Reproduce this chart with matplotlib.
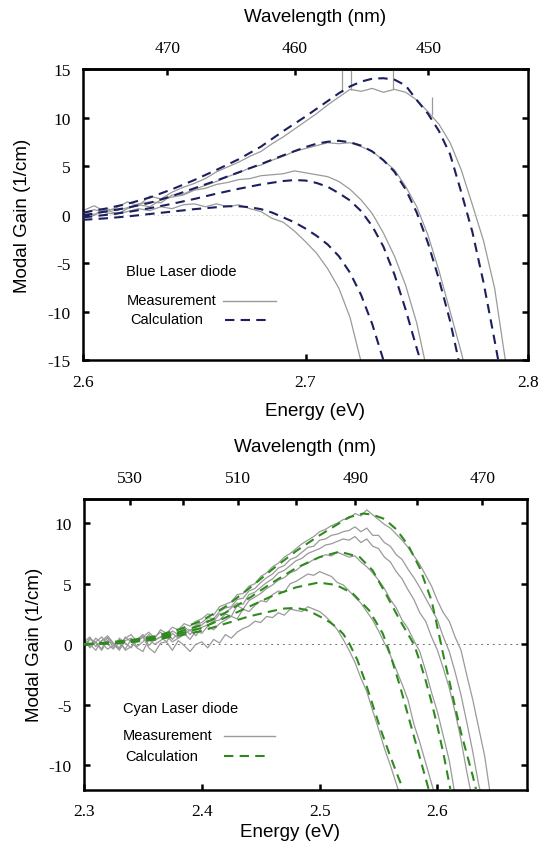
import numpy as np
import matplotlib.pyplot as plt
from matplotlib.lines import Line2D

plt.rcParams['font.family'] = 'Liberation Serif'
plt.rcParams['axes.unicode_minus'] = False

HC = 1239.84  # eV*nm

# ---------------- blue laser diode (top panel) ----------------
# measured spectra, sampled every 5 meV from 2.600 eV
blue_meas_1 = [0.4, 0.9, 0.3, 0.7, 1.3, 0.9, 1.9, 1.6, 2.3, 2.8,
               3.2, 3.7, 4.4, 4.9, 5.4, 6.0, 6.5, 7.3, 8.0, 8.8,
               9.6, 10.4, 11.3, 12.1, 12.9, 12.7, 13.0, 12.6, 12.9, 12.6,
               11.8, 10.6, 9.3, 7.4, 4.6, 1.0, -2.7, -7.6, -15.3]
blue_meas_2 = [0.2, -0.1, 0.6, 0.4, 0.7, 1.1, 1.3, 1.2, 2.0, 2.1,
               2.6, 3.0, 3.4, 3.9, 4.3, 4.8, 5.1, 5.6, 6.0, 6.5,
               6.8, 7.1, 7.4, 7.3, 7.4, 7.0, 6.5, 5.6, 4.6, 2.9,
               0.8, -2.1, -5.8, -10.0, -14.2, -19.0]
blue_meas_3 = [0.1, 0.5, 0.2, 0.0, 0.6, 1.0, 0.8, 1.5, 1.8, 2.0,
               2.5, 2.7, 3.1, 3.3, 3.6, 3.7, 4.0, 4.1, 4.2, 4.5,
               4.3, 4.1, 3.9, 3.4, 2.6, 1.5, 0.1, -1.9, -4.3, -7.3,
               -11.2, -16.5]
blue_meas_4 = [0.3, 0.0, 0.5, 0.1, 0.3, 0.6, 0.4, 0.8, 0.6, 1.0,
               1.1, 0.8, 1.1, 0.8, 1.0, 0.6, 0.3, -0.4, -0.8, -1.7,
               -2.8, -4.0, -5.6, -7.6, -10.6, -15.2]
# narrow spikes on the highest measured trace
blue_spike_e = [2.7165, 2.7205, 2.7395, 2.757]
blue_spike_lo = [12.6, 12.8, 12.9, 10.3]
blue_spike_hi = [15.5, 15.5, 15.3, 12.1]

# calculated gain
blue_calc_1_e = [2.600, 2.610, 2.620, 2.630, 2.640, 2.650, 2.660, 2.670, 2.680, 2.690,
                 2.700, 2.705, 2.710, 2.715, 2.720, 2.725, 2.730, 2.735, 2.740, 2.745,
                 2.750, 2.755, 2.760, 2.765, 2.770, 2.775, 2.780, 2.785, 2.787]
blue_calc_1 = [0.2, 0.6, 1.1, 1.75, 2.6, 3.55, 4.6, 5.7, 7.0, 8.6,
               10.1, 10.9, 11.7, 12.5, 13.2, 13.7, 14.0, 14.05, 13.9, 13.3,
               11.8, 10.4, 8.6, 6.2, 2.3, -1.8, -7.0, -13.0, -15.5]
blue_calc_2_e = [2.600, 2.610, 2.620, 2.630, 2.640, 2.650, 2.660, 2.670, 2.680, 2.690,
                 2.700, 2.705, 2.710, 2.715, 2.720, 2.725, 2.730, 2.735, 2.740, 2.745,
                 2.750, 2.755, 2.760, 2.765, 2.769]
blue_calc_2 = [-0.1, 0.3, 0.7, 1.2, 1.9, 2.7, 3.5, 4.35, 5.2, 6.1,
               6.95, 7.3, 7.5, 7.6, 7.45, 7.1, 6.5, 5.6, 4.4, 2.6,
               0.2, -2.9, -6.7, -11.0, -15.2]
blue_calc_3_e = [2.600, 2.610, 2.620, 2.630, 2.640, 2.650, 2.660, 2.670, 2.680, 2.690,
                 2.695, 2.700, 2.705, 2.710, 2.715, 2.720, 2.725, 2.730, 2.735, 2.740,
                 2.745, 2.750, 2.752]
blue_calc_3 = [-0.3, -0.05, 0.25, 0.65, 1.1, 1.6, 2.15, 2.65, 3.1, 3.45,
               3.55, 3.5, 3.25, 2.85, 2.2, 1.45, 0.35, -1.2, -3.3, -6.2,
               -9.8, -13.8, -15.3]
blue_calc_4_e = [2.600, 2.610, 2.620, 2.630, 2.640, 2.650, 2.660, 2.665, 2.670, 2.675,
                 2.680, 2.685, 2.690, 2.695, 2.700, 2.705, 2.710, 2.715, 2.720, 2.725,
                 2.730, 2.735]
blue_calc_4 = [-0.55, -0.4, -0.2, 0.05, 0.3, 0.55, 0.75, 0.85, 0.85, 0.75,
               0.55, 0.2, -0.3, -0.8, -1.45, -2.2, -3.1, -4.3, -6.0, -8.3,
               -11.3, -15.0]

# ---------------- cyan laser diode (bottom panel) ----------------
# measured spectra, sampled every 5 meV from 2.300 eV
cyan_meas_1 = [0.3, -0.2, 0.5, 0.1, -0.4, -0.1, 0.4, -0.5, -0.2, 0.3,
               0.6, -0.3, -0.7, 0.1, 0.2, -0.5, 0.3, -0.1, -0.6, 0.0,
               0.2, -0.3, 0.4, 0.1, 0.8, 0.5, 1.0, 1.3, 1.5, 1.9,
               1.8, 2.3, 2.2, 2.6, 2.4, 2.9, 2.8, 2.7, 3.1, 2.9,
               2.7, 2.3, 1.8, 1.2, 0.4, -0.5, -1.5, -2.8, -3.9, -5.5,
               -7.0, -8.6, -10.0, -11.5, -13.0]
cyan_meas_2 = [-0.2, 0.5, 0.1, -0.5, 0.3, 0.0, -0.4, 0.6, 0.2, -0.3,
               -0.6, 0.4, 0.0, 0.3, 0.7, 0.2, 0.5, 0.9, 0.4, 1.1,
               0.9, 1.5, 1.2, 1.7, 2.0, 2.3, 2.1, 2.9, 2.7, 3.2,
               3.6, 3.5, 4.1, 4.4, 4.3, 5.0, 5.2, 5.5, 5.8, 5.7,
               6.0, 5.8, 5.6, 5.1, 4.9, 4.4, 3.9, 3.4, 2.7, 2.0,
               1.1, 0.1, -0.9, -2.1, -3.3, -4.6, -6.6, -8.1, -9.8, -11.5,
               -13.2]
cyan_meas_3 = [0.4, 0.0, -0.5, 0.3, 0.5, -0.3, 0.1, -0.4, 0.4, 0.2,
               0.7, -0.1, 0.4, 0.6, 0.2, 0.9, 0.5, 0.8, 1.2, 0.7,
               1.4, 1.6, 1.9, 2.0, 2.5, 2.3, 3.2, 2.9, 3.6, 3.9,
               4.2, 4.6, 4.9, 5.3, 5.5, 5.9, 6.1, 6.5, 6.7, 7.0,
               7.2, 7.4, 7.3, 7.6, 7.4, 7.2, 7.3, 6.8, 6.4, 5.9,
               5.3, 4.6, 3.7, 3.0, 2.0, 1.3, 0.3, -0.6, -2.2, -4.0,
               -5.6, -7.6, -9.6, -12.5]
cyan_meas_4 = [-0.3, 0.4, 0.2, -0.4, 0.6, 0.0, -0.5, 0.3, 0.5, -0.2,
               0.2, 0.8, 0.3, 0.6, 1.0, 0.4, 0.9, 1.3, 0.8, 1.4,
               1.6, 2.0, 1.9, 2.5, 2.6, 3.0, 3.4, 3.3, 4.1, 4.3,
               4.7, 5.1, 5.4, 5.9, 6.1, 6.5, 6.9, 7.1, 7.5, 7.7,
               7.9, 8.2, 8.3, 8.5, 8.7, 8.6, 8.9, 8.4, 8.7, 8.1,
               7.9, 7.2, 6.8, 6.0, 5.4, 4.5, 3.7, 2.6, 1.9, 0.6,
               -0.5, -2.0, -3.6, -5.6, -7.9, -10.6, -13.0]
cyan_meas_5 = [0.4, -0.3, 0.2, 0.6, 0.0, -0.4, 0.5, 0.1, -0.3, 0.4,
               0.8, 0.3, 0.6, 1.0, 0.5, 1.1, 0.8, 1.4, 1.1, 1.6,
               1.8, 2.2, 2.1, 2.7, 3.0, 3.1, 3.7, 3.8, 4.4, 4.6,
               5.1, 5.5, 5.8, 6.3, 6.5, 7.0, 7.2, 7.6, 8.0, 8.1,
               8.6, 8.7, 9.0, 9.1, 9.3, 9.4, 9.7, 9.3, 9.6, 9.0,
               9.0, 8.4, 8.1, 7.4, 7.0, 6.2, 5.5, 4.7, 3.8, 2.9,
               2.0, 0.6, -0.6, -2.3, -4.2, -6.5, -8.9, -11.6, -13.5]
cyan_meas_6 = [0.2, 0.6, -0.2, 0.3, 0.7, 0.1, -0.3, 0.5, 0.8, 0.2,
               0.6, 1.0, 0.5, 1.2, 0.9, 1.4, 1.2, 1.7, 1.5, 1.9,
               2.1, 2.5, 2.4, 3.1, 3.3, 3.5, 4.1, 4.2, 4.8, 5.0,
               5.6, 5.9, 6.4, 6.7, 7.2, 7.5, 7.9, 8.3, 8.6, 8.9,
               9.3, 9.5, 9.8, 10.0, 10.3, 10.4, 10.8, 10.6, 11.1, 10.7,
               10.3, 9.9, 9.6, 9.1, 8.6, 8.0, 7.3, 6.6, 5.7, 4.8,
               3.6, 2.6, 1.9, 0.6, -0.5, -2.6, -4.6, -6.9, -9.2, -12.5]

cyan_calc_1_e = [2.30, 2.32, 2.34, 2.36, 2.38, 2.40, 2.42, 2.44, 2.46, 2.48,
                 2.50, 2.515, 2.525, 2.537, 2.545, 2.555, 2.565, 2.575, 2.585, 2.595,
                 2.600, 2.605, 2.610, 2.615, 2.620, 2.625, 2.630, 2.634]
cyan_calc_1 = [0.0, 0.15, 0.35, 0.65, 1.2, 1.95, 3.1, 4.6, 6.2, 7.7,
               9.0, 9.9, 10.5, 10.8, 10.7, 10.35, 9.5, 8.2, 6.3, 3.6,
               1.4, -0.9, -3.0, -5.2, -7.3, -9.1, -10.9, -12.5]
cyan_calc_2_e = [2.30, 2.32, 2.34, 2.36, 2.38, 2.40, 2.42, 2.44, 2.46, 2.48,
                 2.50, 2.517, 2.534, 2.545, 2.556, 2.568, 2.580, 2.585, 2.590, 2.595,
                 2.600, 2.605, 2.610, 2.612]
cyan_calc_2 = [0.0, 0.1, 0.3, 0.55, 1.0, 1.6, 2.6, 3.8, 5.1, 6.3,
               7.2, 7.65, 7.2, 6.1, 4.2, 2.0, 0.0, -1.4, -3.0, -4.8,
               -6.8, -9.0, -11.5, -12.5]
cyan_calc_3_e = [2.30, 2.32, 2.34, 2.36, 2.38, 2.40, 2.42, 2.44, 2.46, 2.48,
                 2.499, 2.514, 2.528, 2.542, 2.5535, 2.557, 2.562, 2.568, 2.574, 2.580,
                 2.586, 2.592, 2.594]
cyan_calc_3 = [0.0, 0.08, 0.22, 0.45, 0.85, 1.35, 2.2, 3.1, 4.0, 4.7,
               5.1, 4.9, 4.2, 2.8, 0.9, 0.0, -1.5, -3.4, -5.5, -7.6,
               -9.7, -11.8, -12.5]
cyan_calc_4_e = [2.30, 2.32, 2.34, 2.36, 2.38, 2.40, 2.42, 2.44, 2.46, 2.47,
                 2.48, 2.488, 2.495, 2.502, 2.509, 2.515, 2.520, 2.525, 2.532, 2.538,
                 2.545, 2.552, 2.559, 2.566, 2.573]
cyan_calc_4 = [0.0, 0.05, 0.18, 0.38, 0.7, 1.1, 1.7, 2.3, 2.75, 2.95,
               3.0, 2.85, 2.55, 2.2, 1.8, 1.35, 0.85, 0.1, -1.3, -2.9,
               -5.0, -7.1, -9.0, -10.8, -12.5]

MEAS_COLOR = '#9a9a9a'
BLUE_CALC = '#1c1f5e'
CYAN_CALC = '#2f8a1e'
SANS = 'Liberation Sans'


def ev_to_nm(e):
    e = np.asarray(e, dtype=float)
    with np.errstate(divide='ignore', invalid='ignore'):
        return HC / e


def style_axes(ax, sec):
    for sp in ax.spines.values():
        sp.set_linewidth(1.8)
    sec.spines['top'].set_linewidth(1.8)
    ax.tick_params(direction='in', length=4, width=1.8, labelsize=12.5,
                   right=True, top=False)
    ax.tick_params(axis='x', pad=10)
    ax.tick_params(axis='y', pad=9)
    sec.tick_params(direction='in', length=4, width=1.8, labelsize=12.5, pad=9)


fig = plt.figure(figsize=(5.48, 8.54), dpi=100)

# ---- top panel ----
ax1 = fig.add_axes([83 / 548, 1 - 361 / 854, 445 / 548, 291 / 854])
blue_e = np.round(np.arange(2.600, 2.7901, 0.005), 3)
ax1.axhline(0, color='#d8d8d8', lw=0.7, ls=(0, (1.5, 3)), zorder=1)
for vals in [blue_meas_1, blue_meas_2, blue_meas_3, blue_meas_4]:
    ax1.plot(blue_e[:len(vals)], vals, color=MEAS_COLOR, lw=0.9, zorder=2)
ax1.vlines(blue_spike_e, blue_spike_lo, blue_spike_hi, color=MEAS_COLOR, lw=0.9, zorder=2)
for e, g in [(blue_calc_1_e, blue_calc_1), (blue_calc_2_e, blue_calc_2),
             (blue_calc_3_e, blue_calc_3), (blue_calc_4_e, blue_calc_4)]:
    ax1.plot(e, g, color=BLUE_CALC, lw=1.5, dashes=(4.5, 3), zorder=3)
ax1.set_xlim(2.6, 2.8)
ax1.set_ylim(-15, 15)
ax1.set_xticks([2.6, 2.7, 2.8])
ax1.set_xticklabels(['2.6', '2.7', '2.8'])
ax1.set_yticks([-15, -10, -5, 0, 5, 10, 15])
sec1 = ax1.secondary_xaxis('top', functions=(ev_to_nm, ev_to_nm))
sec1.set_xticks([470, 460, 450])
sec1.set_xticklabels(['470', '460', '450'])
style_axes(ax1, sec1)

ax1.text(0.097, 0.306, 'Blue Laser diode', transform=ax1.transAxes,
         fontsize=10.5, family=SANS, va='center')
ax1.text(0.099, 0.206, 'Measurement', transform=ax1.transAxes,
         fontsize=10.5, family=SANS, va='center')
ax1.text(0.106, 0.141, 'Calculation', transform=ax1.transAxes,
         fontsize=10.5, family=SANS, va='center')
ax1.add_line(Line2D([0.315, 0.434], [0.203, 0.203], transform=ax1.transAxes,
                    color=MEAS_COLOR, lw=1.0))
ax1.add_line(Line2D([0.318, 0.422], [0.137, 0.137], transform=ax1.transAxes,
                    color=BLUE_CALC, lw=1.5, dashes=(4.5, 3)))

fig.text(315 / 548, 1 - 17 / 854, 'Wavelength (nm)', ha='center', va='center',
         fontsize=13.5, family=SANS)
fig.text(315 / 548, 1 - 412 / 854, 'Energy (eV)', ha='center', va='center',
         fontsize=13.5, family=SANS)
fig.text(23 / 548, 1 - 216 / 854, 'Modal Gain (1/cm)', ha='center', va='center',
         rotation=90, fontsize=13.5, family=SANS)

# ---- bottom panel ----
ax2 = fig.add_axes([84 / 548, 1 - 790.5 / 854, 443 / 548, 290.5 / 854])
cyan_e = np.round(np.arange(2.300, 2.6451, 0.005), 3)
ax2.axhline(0, color='#707070', lw=0.7, ls=(0, (2, 4)), zorder=1)
for vals in [cyan_meas_1, cyan_meas_2, cyan_meas_3, cyan_meas_4, cyan_meas_5, cyan_meas_6]:
    ax2.plot(cyan_e[:len(vals)], vals, color=MEAS_COLOR, lw=0.9, zorder=2)
for e, g in [(cyan_calc_1_e, cyan_calc_1), (cyan_calc_2_e, cyan_calc_2),
             (cyan_calc_3_e, cyan_calc_3), (cyan_calc_4_e, cyan_calc_4)]:
    ax2.plot(e, g, color=CYAN_CALC, lw=1.5, dashes=(4.5, 3), zorder=3)
ax2.set_xlim(2.3, 2.676)
ax2.set_ylim(-12, 12)
ax2.set_xticks([2.3, 2.4, 2.5, 2.6])
ax2.set_xticklabels(['2.3', '2.4', '2.5', '2.6'])
ax2.set_yticks([-10, -5, 0, 5, 10])
sec2 = ax2.secondary_xaxis('top', functions=(ev_to_nm, ev_to_nm))
sec2.set_xticks([530, 520, 510, 500, 490, 480, 470])
sec2.set_xticklabels(['530', '', '510', '', '490', '', '470'])
style_axes(ax2, sec2)

ax2.text(0.087, 0.282, 'Cyan Laser diode', transform=ax2.transAxes,
         fontsize=10.5, family=SANS, va='center')
ax2.text(0.088, 0.186, 'Measurement', transform=ax2.transAxes,
         fontsize=10.5, family=SANS, va='center')
ax2.text(0.0925, 0.117, 'Calculation', transform=ax2.transAxes,
         fontsize=10.5, family=SANS, va='center')
ax2.add_line(Line2D([0.316, 0.431], [0.183, 0.183], transform=ax2.transAxes,
                    color=MEAS_COLOR, lw=1.0))
ax2.add_line(Line2D([0.316, 0.420], [0.117, 0.117], transform=ax2.transAxes,
                    color=CYAN_CALC, lw=1.5, dashes=(4.5, 3)))

fig.text(305 / 548, 1 - 448 / 854, 'Wavelength (nm)', ha='center', va='center',
         fontsize=13.5, family=SANS)
fig.text(290 / 548, 1 - 833 / 854, 'Energy (eV)', ha='center', va='center',
         fontsize=13.5, family=SANS)
fig.text(35 / 548, 1 - 645 / 854, 'Modal Gain (1/cm)', ha='center', va='center',
         rotation=90, fontsize=13.5, family=SANS)

fig.savefig('out.png', dpi=100)
